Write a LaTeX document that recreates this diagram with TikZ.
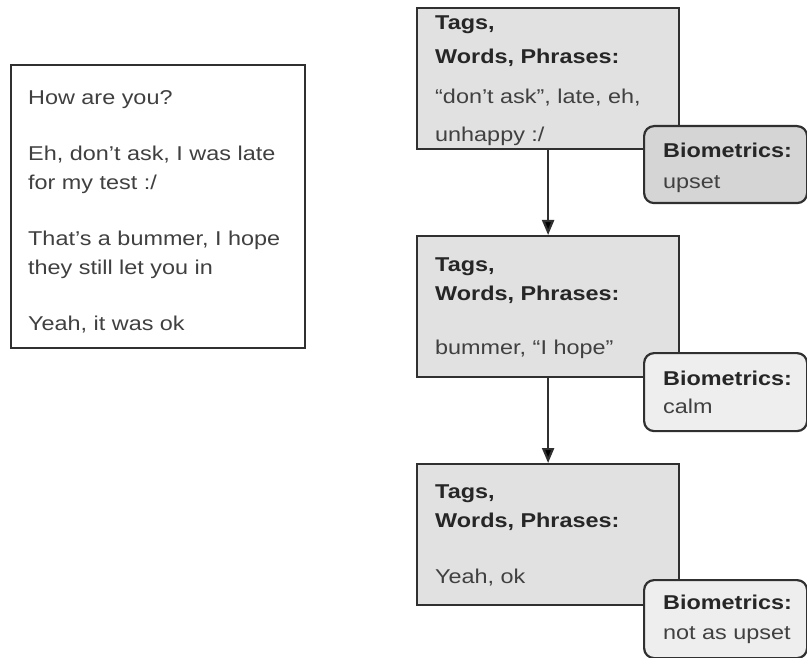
\documentclass[tikz,border=0pt]{standalone}
\usepackage{fontspec}
\setmainfont[FakeStretch=1.17]{Liberation Sans}
\usetikzlibrary{arrows.meta,positioning}

\definecolor{boxline}{HTML}{303030}
\definecolor{tagfill}{HTML}{E1E1E1}
\definecolor{biodark}{HTML}{D5D5D5}
\definecolor{biolight}{HTML}{EEEEEE}
\definecolor{textgray}{HTML}{404040}
\newcommand{\hd}[1]{\textcolor{black!85}{\textbf{#1}}}

\begin{document}
\begin{tikzpicture}[x=1pt, y=-1pt,
  chatbox/.style={draw=boxline, line width=2.2pt, fill=white, anchor=north west,
    minimum width=294pt, minimum height=283pt, inner sep=0pt},
  tagbox/.style={draw=boxline, line width=2.2pt, fill=tagfill, anchor=north west,
    minimum width=262pt, minimum height=141pt, inner sep=0pt},
  biobox/.style={draw=boxline, line width=2.2pt, rounded corners=10pt, anchor=north west,
    minimum width=163pt, minimum height=77pt, inner sep=0pt},
  txt/.style={anchor=north west, inner sep=0pt, align=left, text=textgray,
    font=\fontsize{20}{29}\selectfont},
  flow/.style={draw=boxline, line width=2.2pt, -{Triangle[length=15pt, width=12pt]}}]
  \useasboundingbox (0,0) rectangle (807,658);

  % conversation
  \node[chatbox](chat) at (10,64) {};
  \node[txt](chattxt) at (28,90) {How are you?\\[27pt]
    Eh, don’t ask, I was late\\for my test :/\\[27pt]
    That’s a bummer, I hope\\they still let you in\\[27pt]
    Yeah, it was ok};

  % tags per message
  \node[tagbox](tags1) at (416,7) {};
  \node[tagbox](tags2) at (416,235) {};
  \node[tagbox](tags3) at (416,463) {};

  \node[txt, font=\fontsize{20}{34}\selectfont](tags1txt) at (435,16)
    {\hd{Tags,}\\\hd{Words, Phrases:}\\[6pt]“don’t ask”, late, eh,\\[4pt]unhappy :/};
  \node[txt](tags2txt) at (435,258)
    {\hd{Tags,}\\\hd{Words, Phrases:}\\[25pt]bummer, “I hope”};
  \node[txt](tags3txt) at (435,485)
    {\hd{Tags,}\\\hd{Words, Phrases:}\\[27pt]Yeah, ok};

  \path[flow]
  (tags1) edge (tags2)
  (tags2) edge (tags3);

  % biometrics
  \node[biobox, fill=biodark](bio1) at (643,125) {};
  \node[biobox, fill=biolight, minimum height=78pt](bio2) at (643,352) {};
  \node[biobox, fill=biolight, minimum height=78pt](bio3) at (643,579) {};

  \node[txt, font=\fontsize{20}{31}\selectfont](bio1txt) at (663,143) {\hd{Biometrics:}\\upset};
  \node[txt, font=\fontsize{20}{28}\selectfont](bio2txt) at (663,371) {\hd{Biometrics:}\\calm};
  \node[txt, font=\fontsize{20}{30}\selectfont](bio3txt) at (663,595) {\hd{Biometrics:}\\not as upset};
\end{tikzpicture}
\end{document}
